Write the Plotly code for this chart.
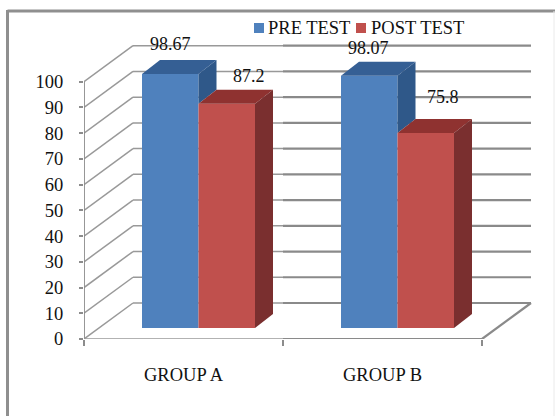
import plotly.graph_objects as go

groups = ["GROUP A", "GROUP B"]
pre_test = [98.67, 98.07]
post_test = [87.2, 75.8]
y_ticks = [0, 10, 20, 30, 40, 50, 60, 70, 80, 90, 100]

W, H = 555, 416
L, R, T, B = 84, 540, 14, 339
PX_X = 199.0            # pixels per category
PX_Y = 2.573            # pixels per value unit
X_MAX = (R - L) / PX_X
Y_MAX = (B - T) / PX_Y
WALL_DX, WALL_DY = 49 / PX_X, 36 / PX_Y
BAR_DX, BAR_DY = 18 / PX_X, 14 / PX_Y
FLOOR = 11 / PX_Y
BAR_W = 56.5 / PX_X
PRE_X0 = 58 / PX_X
POST_X0 = PRE_X0 + BAR_W

BLUE, BLUE_TOP, BLUE_SIDE = "#4F81BD", "#355F94", "#2F5889"
RED, RED_TOP, RED_SIDE = "#C0504D", "#8F3230", "#7A2F2F"
GRID = "#8C8C8C"
FONT = "Liberation Serif"

def dx(p):
    return (p - L) / PX_X

def dy(p):
    return (B - p) / PX_Y

shapes = []

def seg(x0, y0, x1, y1, w=1.5, c=GRID):
    shapes.append(dict(type="line", xref="x", yref="y", x0=x0, y0=y0, x1=x1, y1=y1,
                       layer="below", line=dict(color=c, width=w)))

for v in y_ticks:
    seg(0, v, WALL_DX, v + WALL_DY, 1.5, "#999999")
    seg(WALL_DX, v + WALL_DY, 1, v + WALL_DY, 1.5, "#999999")
    seg(1, v + WALL_DY, 2 + WALL_DX, v + WALL_DY, 2.2, "#8A8A8A")
seg(0, 0, 0, 100, 1.8)
seg(0, 0, 1, 0, 1.6, "#999999")
seg(1, 0, 2, 0, 2.2, "#8A8A8A")
seg(2, 0, 2 + WALL_DX, WALL_DY, 2.2, "#8A8A8A")

# outer chart frame
def fx(p):
    return (p - L) / (R - L)

def fy(p):
    return (B - p) / (B - T)

for x0, y0, x1, y1, w, c in [(7.5, 11, W, 11, 3, "#8F8F8F"), (7.5, 10, 7.5, H, 3, "#8F8F8F"),
                             (554, 11, 554, H, 1, "#EAEAEA")]:
    shapes.append(dict(type="line", xref="paper", yref="paper", x0=fx(x0), y0=fy(y0), x1=fx(x1), y1=fy(y1),
                       layer="below", line=dict(color=c, width=w)))

fig = go.Figure()

fig.add_trace(go.Bar(x=[i + PRE_X0 + BAR_W / 2 for i in range(2)], y=pre_test, base=FLOOR, width=BAR_W,
                     marker=dict(color=BLUE, line=dict(width=0)), name="PRE TEST", showlegend=False))
fig.add_trace(go.Bar(x=[i + POST_X0 + BAR_W / 2 for i in range(2)], y=post_test, base=FLOOR, width=BAR_W,
                     marker=dict(color=RED, line=dict(width=0)), name="POST TEST", showlegend=False))

def poly(xs, ys, color):
    fig.add_trace(go.Scatter(x=xs, y=ys, mode="lines", fill="toself", fillcolor=color,
                             line=dict(width=0, color=color), showlegend=False, hoverinfo="skip"))

for i in range(2):
    a, b, c = i + PRE_X0, i + POST_X0, i + POST_X0 + BAR_W
    p, q = pre_test[i] + FLOOR, post_test[i] + FLOOR
    # PRE: side (only the part above the POST bar shows), then top
    poly([b, b + BAR_DX, b + BAR_DX, b], [p, p + BAR_DY, q + BAR_DY, q], BLUE_SIDE)
    poly([a, a + BAR_DX, b + BAR_DX, b], [p, p + BAR_DY, p + BAR_DY, p], BLUE_TOP)
    # POST: top, then side
    poly([b, b + BAR_DX, c + BAR_DX, c], [q, q + BAR_DY, q + BAR_DY, q], RED_TOP)
    poly([c, c + BAR_DX, c + BAR_DX, c], [q, q + BAR_DY, FLOOR + BAR_DY, FLOOR], RED_SIDE)

# legend keys
for name, color, kx, tx in [("PRE TEST", BLUE, 259, 266), ("POST TEST", RED, 361, 369)]:
    fig.add_trace(go.Scatter(x=[dx(kx)], y=[dy(28)], mode="markers",
                             marker=dict(symbol="square", size=10, color=color),
                             cliponaxis=False, showlegend=False, hoverinfo="skip"))
    fig.add_annotation(x=dx(tx), y=dy(28), text=name, showarrow=False, xanchor="left", yanchor="middle",
                       font=dict(family=FONT, size=18.5, color="#111111"))

# data labels
for vals, cx, cy in [(pre_test, [170, 368], [44, 48]), (post_test, [249, 443], [76, 97])]:
    for v, x, y in zip(vals, cx, cy):
        fig.add_annotation(x=dx(x), y=dy(y), text=f"{v:g}", showarrow=False, xanchor="center", yanchor="middle",
                           font=dict(family=FONT, size=18, color="#111111"))

fig.update_layout(
    width=W, height=H, autosize=False, barmode="overlay",
    margin=dict(l=L, r=W - R, t=T, b=H - B, pad=0),
    paper_bgcolor="white", plot_bgcolor="rgba(0,0,0,0)",
    showlegend=False, shapes=shapes,
    font=dict(family=FONT, size=18, color="#111111"),
    xaxis=dict(range=[0, X_MAX], tickmode="array", tickvals=[0.5, 1.5], ticktext=groups, ticks="",
               showgrid=False, zeroline=False, showline=False, ticklabelstandoff=22,
               tickfont=dict(family=FONT, size=18.5, color="#111111"),
               minor=dict(tickmode="array", tickvals=[0, 1, 2], ticks="outside", ticklen=6,
                          tickwidth=1.5, tickcolor=GRID, showgrid=False)),
    yaxis=dict(range=[0, Y_MAX], tickmode="array", tickvals=y_ticks, ticks="outside", ticklen=4,
               tickwidth=1.5, tickcolor=GRID, showgrid=False, zeroline=False, showline=False,
               ticklabelstandoff=12, tickfont=dict(family=FONT, size=18.5, color="#111111")),
)

fig.write_html("out.html", config=dict(displayModeBar=False),
               post_script="document.body.style.margin='0';document.documentElement.style.overflow='hidden';")
